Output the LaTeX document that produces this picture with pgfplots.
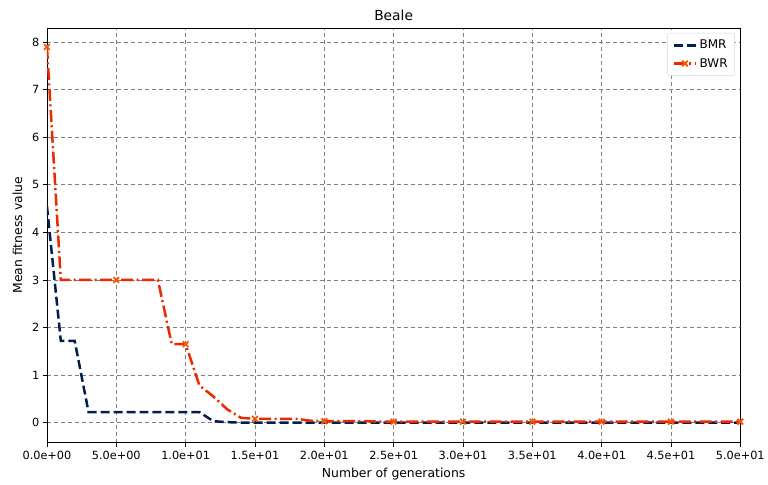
\documentclass[border=0pt]{standalone}
\usepackage{fontspec}
\setmainfont{DejaVu Sans}
\usepackage{pgfplots}
\pgfplotsset{compat=1.18}
\definecolor{bmr}{RGB}{0,32,80}
\definecolor{bwr}{RGB}{238,40,0}
\definecolor{bwrm}{RGB}{250,85,0}
\begin{document}
\begin{tikzpicture}
\begin{axis}[
  name=ax,
  scale only axis,
  width=694pt, height=415pt,
  xmin=0, xmax=50, ymin=-0.42, ymax=8.3,
  xtick={0,5,...,50},
  xticklabels={0.0e+00,5.0e+00,1.0e+01,1.5e+01,2.0e+01,2.5e+01,3.0e+01,3.5e+01,4.0e+01,4.5e+01,5.0e+01},
  ytick={0,1,...,8},
  xtick pos=left, ytick pos=left,
  /pgf/number format/assume math mode=true,
  tick align=outside,
  major tick length=4pt,
  tick style={black, line width=0.8pt},
  axis line style={black, line width=0.8pt},
  grid=major,
  major grid style={gray, line width=0.8pt, dash pattern=on 4pt off 3pt},
  ticklabel style={font=\fontsize{11.3}{13}\selectfont},
  xticklabel style={yshift=-1pt},
  xlabel={Number of generations},
  ylabel={Mean fitness value},
  label style={font=\fontsize{12.4}{14}\selectfont},
  xlabel style={yshift=-2pt},
  ylabel style={yshift=3pt},
  title={Beale},
  title style={font=\fontsize{13.8}{16}\selectfont, yshift=-2pt},
  legend style={at={(0.992,0.988)}, anchor=north east, draw=black!15, rounded corners=2pt, font=\fontsize{12}{14}\selectfont, row sep=4pt, inner xsep=5pt, inner ysep=5pt},
  legend cell align=left,
  legend image code/.code={\draw[#1] (0pt,0pt) -- (0.8cm,0pt); \draw[#1, mark repeat=1] plot coordinates {(0.4cm,0pt)};},
]
\addplot[bmr, line width=2.5pt, dash pattern=on 9pt off 4pt] coordinates {
(0,4.55) (1,1.72) (2,1.72) (3,0.22) (4,0.22) (5,0.22) (6,0.22) (7,0.22) (8,0.22) (9,0.22) (10,0.22) (11,0.22) (12,0.03) (13,0.01) (14,0.0) (15,0) (20,0) (25,0) (30,0) (35,0) (40,0) (45,0) (50,0)
};
\addlegendentry{BMR}
\addplot[bwr, line width=2.5pt, dash pattern=on 12pt off 3.5pt on 2pt off 3.5pt, mark=x, mark size=4pt, mark repeat=5, mark options={solid, draw=bwrm, line width=1.8pt}] coordinates {
(0,7.9) (1,3.0) (2,3.0) (3,3.0) (4,3.0) (5,3.0) (6,3.0) (7,3.0) (8,3.0) (9,1.65) (10,1.65) (11,0.78) (12,0.55) (13,0.28) (14,0.1) (15,0.08) (16,0.08) (17,0.08) (18,0.08) (19,0.04) (20,0.03) (21,0.03) (22,0.03) (23,0.03) (24,0.02) (25,0.02) (26,0.02) (27,0.02) (28,0.02) (29,0.02) (30,0.02) (31,0.02) (32,0.02) (33,0.02) (34,0.02) (35,0.02) (36,0.02) (37,0.02) (38,0.02) (39,0.02) (40,0.02) (41,0.02) (42,0.02) (43,0.02) (44,0.02) (45,0.02) (46,0.02) (47,0.02) (48,0.02) (49,0.02) (50,0.02)
};
\addlegendentry{BWR}
\end{axis}
\path (ax.south west) ++(-47pt,-42pt) coordinate (bba);
\path (ax.north east) ++(27pt,28pt) coordinate (bbb);
\useasboundingbox (bba) rectangle (bbb);
\end{tikzpicture}
\end{document}
